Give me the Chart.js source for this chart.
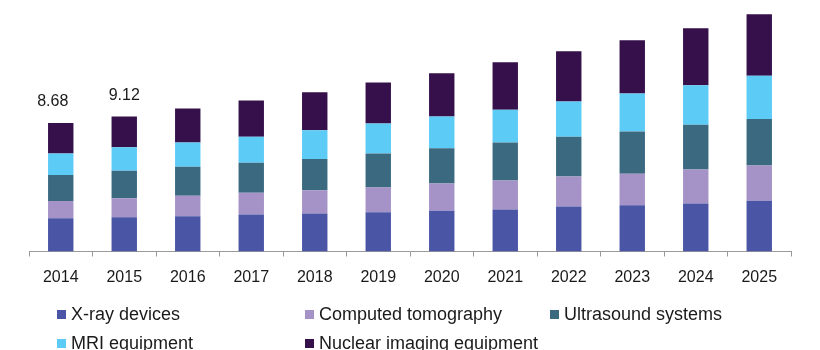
<!DOCTYPE html>
<html lang="en">
<head>
    <meta charset="UTF-8">
    <title>Medical imaging market</title>
    <script src="https://cdn.jsdelivr.net/npm/chart.js"></script>
    <style>
        body {
            margin: 0;
            padding: 0;
            background: #fff;
            font-family: 'Liberation Sans', Arial, sans-serif;
        }
        .wrap {
            position: relative;
            width: 820px;
            height: 350px;
            overflow: hidden;
        }
        #legend {
            position: absolute;
            left: 0;
            top: 0;
            width: 820px;
            height: 350px;
            pointer-events: none;
        }
        .item {
            position: absolute;
            font-size: 18px;
            color: #1a1a1a;
            white-space: nowrap;
            line-height: 20px;
        }
        .item span {
            display: inline-block;
            width: 9px;
            height: 9px;
            margin-right: 5px;
            vertical-align: 1px;
        }
    </style>
</head>
<body>
<div class="wrap">
    <canvas id="chart" width="820" height="350"></canvas>
    <div id="legend"></div>
</div>

<script>
    const years = ["2014", "2015", "2016", "2017", "2018", "2019", "2020", "2021", "2022", "2023", "2024", "2025"];

    const xray       = [2.24, 2.31, 2.39, 2.50, 2.57, 2.66, 2.75, 2.84, 3.04, 3.13, 3.24, 3.43];
    const ctScan     = [1.17, 1.29, 1.38, 1.47, 1.57, 1.67, 1.84, 1.96, 2.03, 2.12, 2.30, 2.39];
    const ultrasound = [1.76, 1.85, 1.96, 2.03, 2.12, 2.30, 2.39, 2.57, 2.68, 2.86, 3.02, 3.13];
    const mri        = [1.45, 1.59, 1.64, 1.76, 1.93, 2.03, 2.14, 2.21, 2.39, 2.57, 2.68, 2.93];
    const nuclear    = [2.06, 2.08, 2.30, 2.45, 2.57, 2.77, 2.93, 3.22, 3.40, 3.60, 3.85, 4.16];

    // totals shown above the first two bars
    const totalLabels = ["8.68", "9.12"];

    const series = [
        {label: "X-ray devices", data: xray, color: "#4a55a5"},
        {label: "Computed tomography", data: ctScan, color: "#a592c6"},
        {label: "Ultrasound systems", data: ultrasound, color: "#3b6a80"},
        {label: "MRI equipment", data: mri, color: "#5ccbf5"},
        {label: "Nuclear imaging equipment", data: nuclear, color: "#35104a"}
    ];

    const totalsPlugin = {
        id: "totals",
        afterDatasetsDraw(chart) {
            const ctx = chart.ctx;
            const last = chart.getDatasetMeta(chart.data.datasets.length - 1);
            ctx.save();
            ctx.font = "16px 'Liberation Sans', Arial, sans-serif";
            ctx.fillStyle = "#1a1a1a";
            ctx.textAlign = "center";
            ctx.textBaseline = "bottom";
            totalLabels.forEach((t, i) => {
                const bar = last.data[i];
                const dx = i === 0 ? -8 : 0;
                ctx.fillText(t, bar.x + dx, bar.y - 13);
            });
            ctx.restore();
        }
    };

    const chart = new Chart(document.getElementById("chart"), {
        type: "bar",
        data: {
            labels: years,
            datasets: series.map(s => ({
                label: s.label,
                data: s.data,
                backgroundColor: s.color,
                borderWidth: 0,
                barPercentage: 0.4,
                categoryPercentage: 1.0
            }))
        },
        options: {
            responsive: false,
            animation: false,
            layout: {padding: {left: 29, right: 29, top: 0, bottom: 0}},
            plugins: {
                legend: {display: false},
                tooltip: {enabled: false}
            },
            scales: {
                x: {
                    stacked: true,
                    grid: {
                        display: true,
                        drawOnChartArea: false,
                        drawTicks: true,
                        tickLength: 5,
                        color: "#9a9a9a"
                    },
                    border: {display: true, color: "#9a9a9a", width: 1},
                    ticks: {
                        color: "#1a1a1a",
                        font: {family: "'Liberation Sans', Arial, sans-serif", size: 16},
                        padding: 11,
                        maxRotation: 0
                    },
                    afterFit(scale) {
                        scale.height = 98.5;
                    }
                },
                y: {
                    stacked: true,
                    display: false,
                    min: 0,
                    max: 17
                }
            }
        },
        plugins: [totalsPlugin]
    });

    // legend laid out in columns like the original
    const cols = [57, 305, 550];
    const rows = [304, 333];
    const legend = document.getElementById("legend");
    series.forEach((s, i) => {
        const div = document.createElement("div");
        div.className = "item";
        div.style.left = cols[i % 3] + "px";
        div.style.top = rows[Math.floor(i / 3)] + "px";
        div.innerHTML = `<span style="background:${s.color}"></span>${s.label}`;
        legend.appendChild(div);
    });
</script>
</body>
</html>
